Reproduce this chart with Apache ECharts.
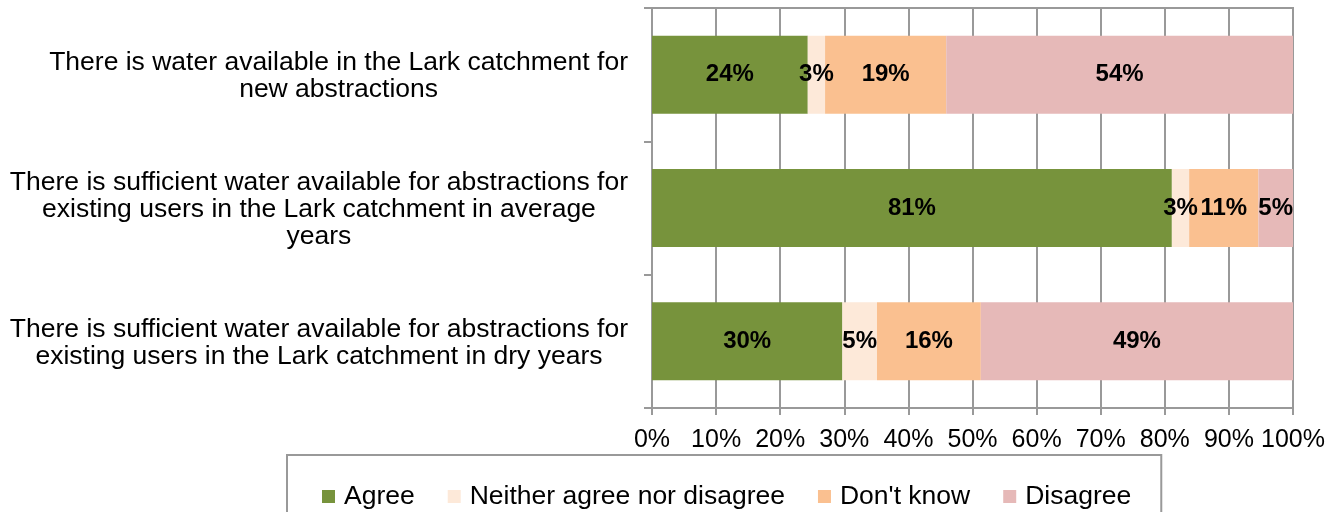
<!DOCTYPE html>
<html>
<head>
<meta charset="utf-8">
<script src="https://cdn.jsdelivr.net/npm/echarts@6/dist/echarts.min.js"></script>
<style>
  html, body { margin: 0; padding: 0; background: #fff; }
  #chart { width: 1338px; height: 512px; }
</style>
</head>
<body>
<div id="chart"></div>
<script>
const categories = [
  "There is water available in the Lark catchment for\nnew abstractions",
  "There is sufficient water available for abstractions for\nexisting users in the Lark catchment in average\nyears",
  "There is sufficient water available for abstractions for\nexisting users in the Lark catchment in dry years"
];
const seriesNames = ["Agree", "Neither agree nor disagree", "Don't know", "Disagree"];
const agree = [24.3, 81.1, 29.7];
const neither = [2.7, 2.7, 5.4];
const dontKnow = [18.9, 10.8, 16.2];
const disagree = [54.1, 5.4, 48.7];
const tickMin = 0, tickMax = 100, tickStep = 10;

const colors = ["#77933C", "#FDE9D9", "#FAC090", "#E6B9B8"];
const FONT = "'Liberation Sans', Arial, sans-serif";
const GRID_COLOR = "#999999";

const values = [agree, neither, dontKnow, disagree];

const chart = echarts.init(document.getElementById('chart'), null, { renderer: 'canvas' });

const series = seriesNames.map((name, i) => ({
  name: name,
  type: 'bar',
  stack: 'total',
  barWidth: '58.5%',
  data: values[i],
  itemStyle: { color: colors[i] },
  label: {
    show: true,
    position: 'inside',
    formatter: p => Math.round(p.value) + '%',
    color: '#000',
    fontFamily: FONT,
    fontWeight: 'bold',
    fontSize: 24
  },
  emphasis: { disabled: true }
}));

chart.setOption({
  animation: false,
  color: colors,
  grid: {
    left: 652, right: 45, top: 8, bottom: 104,
    show: true, borderColor: GRID_COLOR, borderWidth: 2
  },
  xAxis: {
    type: 'value',
    min: tickMin, max: tickMax, interval: tickStep,
    axisLine: { show: true, lineStyle: { color: GRID_COLOR, width: 2 } },
    axisTick: { show: true, length: 7, lineStyle: { color: GRID_COLOR, width: 2 } },
    splitLine: { show: true, lineStyle: { color: GRID_COLOR, width: 2 } },
    axisLabel: {
      formatter: '{value}%',
      color: '#000', fontFamily: FONT, fontSize: 25, margin: 20
    }
  },
  yAxis: {
    type: 'category',
    inverse: true,
    data: categories,
    axisLine: { show: true, lineStyle: { color: GRID_COLOR, width: 2 } },
    axisTick: { show: true, length: 8, lineStyle: { color: GRID_COLOR, width: 2 } },
    splitLine: { show: false },
    axisLabel: {
      margin: 24,
      padding: [4, 0, 0, 0],
      formatter: v => v.split('\n').map(l => '{c|' + l + '}').join('\n'),
      rich: {
        c: { align: 'center', fontSize: 26.5, lineHeight: 27, color: '#000', fontFamily: FONT }
      }
    }
  },
  legend: {
    data: seriesNames,
    left: 287, top: 455,
    orient: 'horizontal',
    icon: 'rect',
    itemWidth: 13, itemHeight: 13,
    itemGap: 33,
    padding: [28, 30, 27, 35],
    borderColor: GRID_COLOR, borderWidth: 2,
    selectedMode: false,
    textStyle: { color: '#000', fontFamily: FONT, fontSize: 26.5, padding: [0, 0, 0, 4] }
  },
  series: series
});
</script>
</body>
</html>
